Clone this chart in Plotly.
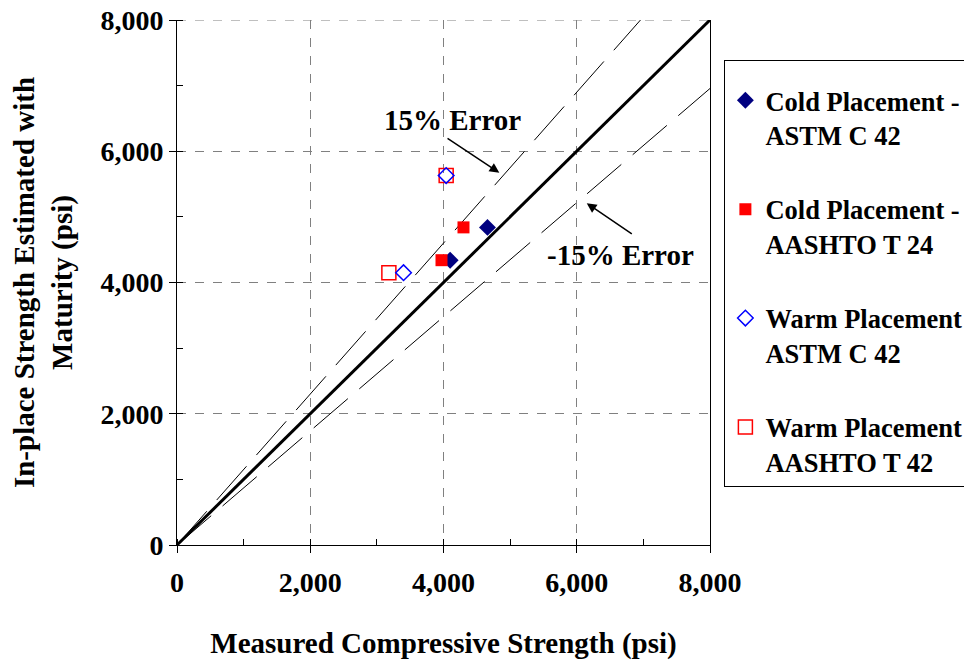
import plotly.graph_objects as go

# ---- data ----
axis_max = 8000
error_pct = 0.15

cold_astm_x = [4100, 4660]
cold_astm_y = [4340, 4840]
cold_aashto_x = [3970, 4300]
cold_aashto_y = [4340, 4840]
warm_astm_x = [3400, 4040]
warm_astm_y = [4150, 5630]
warm_aashto_x = [3180, 4040]
warm_aashto_y = [4150, 5630]

tick_vals = [0, 2000, 4000, 6000, 8000]
tick_text = ["0", "2,000", "4,000", "6,000", "8,000"]

FONT = "Liberation Serif"
fnt = lambda s: dict(family=FONT, size=s, color="black", weight="bold")

fig = go.Figure()

# reference lines
line_x = [0, axis_max]
fig.add_trace(go.Scatter(x=line_x, y=[0, axis_max * (1 + error_pct)], mode="lines",
                         line=dict(color="black", width=1, dash="45px,15px"),
                         showlegend=False, hoverinfo="skip"))
fig.add_trace(go.Scatter(x=line_x, y=[0, axis_max / (1 + error_pct)], mode="lines",
                         line=dict(color="black", width=1, dash="45px,15px"),
                         showlegend=False, hoverinfo="skip"))
fig.add_trace(go.Scatter(x=line_x, y=[0, axis_max], mode="lines",
                         line=dict(color="black", width=3), showlegend=False, hoverinfo="skip"))

# data series
fig.add_trace(go.Scatter(x=cold_astm_x, y=cold_astm_y, mode="markers",
                         name="Cold Placement -<br>ASTM C 42", legendgroup="a", legendrank=1,
                         marker=dict(symbol="diamond", size=13, color="#000080")))
fig.add_trace(go.Scatter(x=cold_aashto_x, y=cold_aashto_y, mode="markers",
                         name="Cold Placement -<br>AASHTO T 24", legendgroup="b", legendrank=2,
                         marker=dict(symbol="square", size=12, color="#ff0000")))
fig.add_trace(go.Scatter(x=warm_aashto_x, y=warm_aashto_y, mode="markers",
                         name="Warm Placement -<br>AASHTO T 42", legendgroup="d", legendrank=4,
                         marker=dict(symbol="square-open", size=14, color="#ff0000",
                                     line=dict(width=1.5))))
fig.add_trace(go.Scatter(x=warm_astm_x, y=warm_astm_y, mode="markers",
                         name="Warm Placement -<br>ASTM C 42", legendgroup="c", legendrank=3,
                         marker=dict(symbol="diamond-open", size=12, color="#0000ff",
                                     line=dict(width=1.5))))

# annotations
fig.add_annotation(x=4128, y=6476, text="15% Error", showarrow=False, font=fnt(29))
fig.add_annotation(x=4838, y=5673, ax=4038, ay=6213, axref="x", ayref="y", text="",
                   showarrow=True, arrowhead=2, arrowsize=1.3, arrowwidth=1.5, arrowcolor="black")
fig.add_annotation(x=6664, y=4419, text="-15% Error", showarrow=False, font=fnt(29))
fig.add_annotation(x=6150, y=5207, ax=6849, ay=4724, axref="x", ayref="y", text="",
                   showarrow=True, arrowhead=2, arrowsize=1.3, arrowwidth=1.5, arrowcolor="black")

# top dashed grid border
fig.add_shape(type="line", xref="x", yref="y", x0=0, x1=axis_max, y0=axis_max, y1=axis_max,
              line=dict(color="#808080", width=1, dash="dash"), layer="below")

axis_common = dict(
    range=[0, axis_max], tickvals=tick_vals, ticktext=tick_text,
    showline=True, linecolor="black", linewidth=1, automargin=False,
    ticks="outside", ticklen=7, tickcolor="black", tickwidth=1,
    showgrid=True, gridcolor="#808080", griddash="dash", gridwidth=1,
    zeroline=False, tickfont=fnt(28), ticklabeloverflow="allow",
    minor=dict(dtick=1000, tick0=0, ticks="inside", ticklen=6, tickcolor="black", showgrid=False),
)

fig.update_xaxes(**axis_common, ticklabelstandoff=5,
                 title=dict(text="Measured Compressive Strength (psi)", font=fnt(29), standoff=36))
fig.update_yaxes(**axis_common, mirror=True,
                 title=dict(text="In-place Strength Estimated with<br>Maturity (psi)",
                            font=fnt(29), standoff=20))

fig.update_layout(
    width=972, height=660,
    margin=dict(l=169, r=270, t=12, b=123, autoexpand=False),
    plot_bgcolor="white", paper_bgcolor="white",
    legend=dict(x=1.027, xanchor="left", y=0.924, yanchor="top",
                font=fnt(26.5), bordercolor="black", borderwidth=1,
                bgcolor="white", valign="top", tracegroupgap=37,
                title=dict(text=" ", font=dict(size=12))),
)

fig.write_html("out.html")
